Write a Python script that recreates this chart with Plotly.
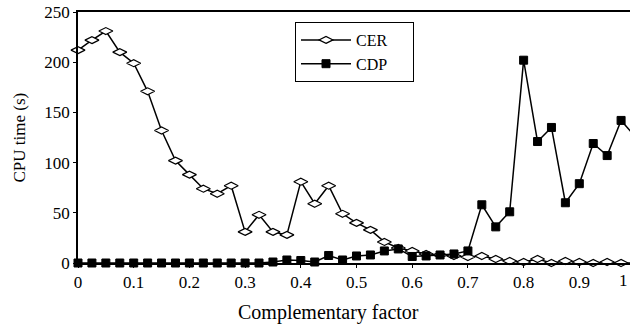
import plotly.graph_objects as go

factor = [round(i * 0.025, 3) for i in range(41)]
cer = [212, 222, 231, 210, 199, 171, 132, 102, 88, 74, 69, 77, 31, 48, 31, 28,
       81, 59, 77, 49, 40, 33, 21, 15, 12, 9, 8, 7, 6, 7, 4, 2, 1, 4, 0, 2, 1, 0, 1, 0, 0]
cdp = [0, 0, 0, 0, 0, 0, 0, 0, 0, 0, 0, 0, 0, 0, 1, 3, 2.5, 1, 7.5, 3, 7, 8, 12, 14,
       6.5, 7, 8, 9, 12, 58, 36, 51, 202, 121, 135, 60, 79, 119, 107, 142, 126]
x_ticks = [0, 0.1, 0.2, 0.3, 0.4, 0.5, 0.6, 0.7, 0.8, 0.9]
x_tick_text = ["0", "0.1", "0.2", "0.3", "0.4", "0.5", "0.6", "0.7", "0.8", "0.9"]
y_ticks = [0, 50, 100, 150, 200, 250]
series_names = ["CER&nbsp;&nbsp;&nbsp;&nbsp;&nbsp;", "CDP&nbsp;&nbsp;&nbsp;&nbsp;&nbsp;"]

FONT = "Liberation Serif"

fig = go.Figure()
fig.add_trace(go.Scatter(
    x=factor, y=cer, name=series_names[0], mode="lines+markers",
    line=dict(color="black", width=1.5),
    marker=dict(symbol="diamond-wide", size=10, color="white",
                line=dict(color="black", width=1.2)),
    cliponaxis=False,
))
fig.add_trace(go.Scatter(
    x=factor, y=cdp, name=series_names[1], mode="lines+markers",
    line=dict(color="black", width=1.5),
    marker=dict(symbol="square", size=8, color="black",
                line=dict(color="black", width=1)),
    cliponaxis=False,
))

fig.update_layout(
    width=630, height=329,
    margin=dict(l=78, r=0, t=12, b=66),
    paper_bgcolor="white", plot_bgcolor="white",
    font=dict(family=FONT, size=17, color="black"),
    showlegend=True,
    legend=dict(
        x=(295 - 78) / 552, y=1 - (22 - 12) / 251, xanchor="left", yanchor="top",
        bgcolor="white", bordercolor="black", borderwidth=1,
        font=dict(family=FONT, size=16, color="black"),
        itemwidth=50, tracegroupgap=0,
    ),
    xaxis=dict(
        range=[0, 0.991], tickvals=x_ticks, ticktext=x_tick_text,
        showgrid=False, zeroline=False, showline=True, linecolor="black",
        linewidth=1.5, mirror=True, ticks="outside", ticklen=3,
        tickcolor="black", tickfont=dict(family=FONT, size=17),
    ),
    yaxis=dict(
        range=[0, 250], tickvals=y_ticks,
        showgrid=False, zeroline=False, showline=True, linecolor="black",
        linewidth=1.5, ticks="outside", ticklen=3, tickcolor="black",
        tickfont=dict(family=FONT, size=17),
    ),
    annotations=[
        dict(text="Complementary factor", xref="paper", yref="paper",
             x=(328 - 78) / 552, y=-(312 - 263) / 251, xanchor="center",
             yanchor="middle", showarrow=False,
             font=dict(family=FONT, size=20)),
        dict(text="CPU time (s)", xref="paper", yref="paper",
             x=-(78 - 19) / 552, y=0.5, xanchor="center", yanchor="middle",
             textangle=-90, showarrow=False,
             font=dict(family=FONT, size=17)),
        dict(text="1", xref="paper", yref="paper", x=1.0, y=-(280 - 263) / 251,
             xanchor="right", yanchor="middle", showarrow=False,
             font=dict(family=FONT, size=17)),
    ],
)

fig.write_html("out.html", config={"displayModeBar": False},
               post_script="document.body.style.margin='0';document.body.style.overflow='hidden';")
